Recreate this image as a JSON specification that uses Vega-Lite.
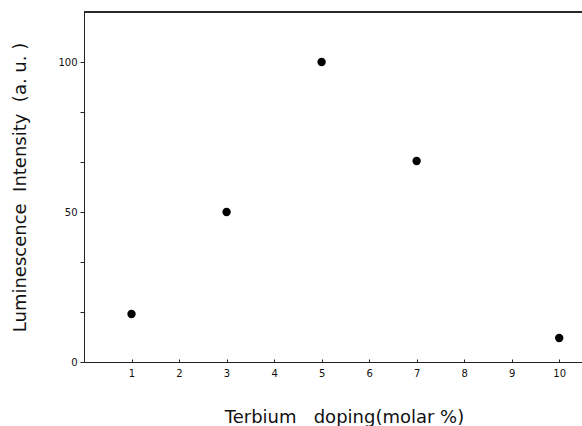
{
  "$schema": "https://vega.github.io/schema/vega-lite/v6.json",
  "width": 498,
  "height": 350,
  "autosize": "none",
  "padding": {"left": 84, "top": 12, "right": 0, "bottom": 64},
  "background": "white",
  "config": {
    "view": {"stroke": null},
    "font": "DejaVu Sans",
    "axis": {
      "domainColor": "#222",
      "tickColor": "#222",
      "grid": false,
      "labelFont": "DejaVu Sans",
      "titleFont": "DejaVu Sans",
      "labelColor": "#111",
      "titleColor": "#111",
      "titleFontWeight": "normal",
      "labelFontSize": 10,
      "titleFontSize": 18
    }
  },
  "data": {
    "values": [
      {"doping": 1, "intensity": 16},
      {"doping": 3, "intensity": 50},
      {"doping": 5, "intensity": 100},
      {"doping": 7, "intensity": 67},
      {"doping": 10, "intensity": 8}
    ]
  },
  "layer": [
    {
      "mark": {"type": "rule", "color": "#222", "strokeWidth": 1},
      "encoding": {
        "y": {"datum": 116.67, "scale": {"domain": [0, 116.67], "nice": false, "zero": false}}
      }
    },
    {
      "mark": {"type": "point", "filled": true, "color": "black", "opacity": 1, "size": 70},
      "encoding": {
        "x": {
          "field": "doping",
          "type": "quantitative",
          "scale": {"domain": [0, 10.48], "nice": false, "zero": false},
          "axis": {
            "title": "Terbium\u00a0\u00a0 doping(molar\u00a0%)",
            "values": [1, 2, 3, 4, 5, 6, 7, 8, 9, 10],
            "tickSize": -3,
            "labelPadding": 9,
            "titleY": 55,
            "titleX": 260,
            "titleBaseline": "middle"
          }
        },
        "y": {
          "field": "intensity",
          "type": "quantitative",
          "scale": {"domain": [0, 116.67], "nice": false, "zero": false},
          "axis": {
            "title": "Luminescence\u00a0 Intensity\u00a0 (a. u. )",
            "values": [0, 16.667, 33.333, 50, 66.667, 83.333, 100],
            "labelExpr": "datum.value == 0 || datum.value == 50 || datum.value == 100 ? format(datum.value, 'd') : ''",
            "tickSize": 4,
            "labelPadding": 3,
            "titleX": -64,
            "titleBaseline": "middle"
          }
        }
      }
    }
  ]
}
